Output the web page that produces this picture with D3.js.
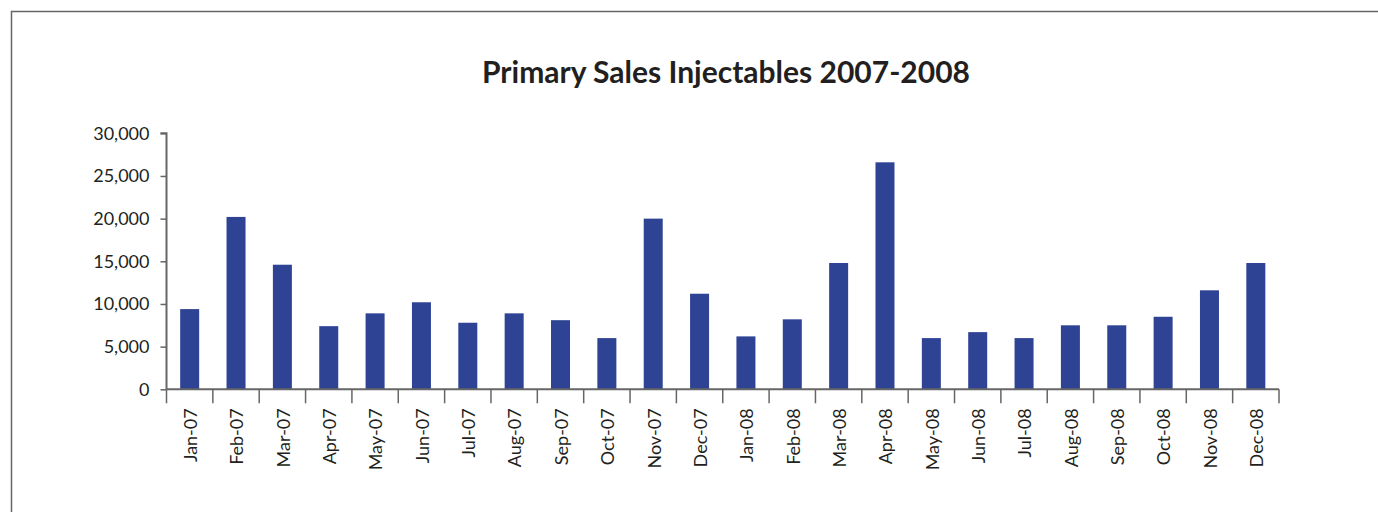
<!DOCTYPE html>
<html>
<head>
<meta charset="utf-8">
<script src="https://cdn.jsdelivr.net/npm/d3@7"></script>
<style>
  html, body { margin: 0; padding: 0; background: #fff; }
  svg { display: block; }
  text { font-family: Lato, "Open Sans", sans-serif; fill: #231f20; }
</style>
</head>
<body>
<svg id="chart" width="1378" height="512"></svg>
<script>
// Monthly primary sales of injectables, 2007–2008
const months = ["Jan-07","Feb-07","Mar-07","Apr-07","May-07","Jun-07","Jul-07","Aug-07","Sep-07","Oct-07","Nov-07","Dec-07",
                "Jan-08","Feb-08","Mar-08","Apr-08","May-08","Jun-08","Jul-08","Aug-08","Sep-08","Oct-08","Nov-08","Dec-08"];
const sales = [9400, 20200, 14600, 7400, 8900, 10200, 7800, 8900, 8100, 6000, 20000, 11200,
               6200, 8200, 14800, 26600, 6000, 6700, 6000, 7500, 7500, 8500, 11600, 14800];
const yTicks = [0, 5000, 10000, 15000, 20000, 25000, 30000];
const title = "Primary Sales Injectables 2007-2008";

const svg = d3.select("#chart");
const plot = { left: 166.5, right: 1279, top: 133.3, bottom: 389.3 };
const axisColor = "#666";

// outer frame
svg.append("path")
  .attr("d", "M11.5,520 L11.5,11.5 L1390,11.5")
  .attr("fill", "none").attr("stroke", axisColor).attr("stroke-width", 1.5);

svg.append("text")
  .attr("x", 726).attr("y", 83)
  .attr("text-anchor", "middle")
  .style("font-size", "30px").style("font-weight", "bold")
  .text(title);

const x = d3.scaleBand().domain(months).range([plot.left, plot.right]).paddingInner(0.59).paddingOuter(0.295);
const xb = d3.scaleBand().domain(months).range([plot.left, plot.right]);
const y = d3.scaleLinear().domain([0, 30000]).range([plot.bottom, plot.top]);

// bars
svg.append("g").selectAll("rect").data(sales).join("rect")
  .attr("x", (d, i) => x(months[i]))
  .attr("width", x.bandwidth())
  .attr("y", d => y(d))
  .attr("height", d => y(0) - y(d))
  .attr("fill", "#2f4395");

// y axis
const yAxis = svg.append("g").attr("transform", `translate(${plot.left},0)`)
  .call(d3.axisLeft(y).tickValues(yTicks).tickFormat(d3.format(",")).tickSize(6).tickPadding(11));
yAxis.select(".domain").attr("stroke", axisColor).attr("stroke-width", 2).attr("d", `M-6,${plot.top}H0V${plot.bottom}`);
yAxis.selectAll(".tick line").attr("stroke", axisColor).attr("stroke-width", 1.5);
yAxis.selectAll(".tick text").style("font-size", "18px").attr("fill", "#231f20");

// x axis: boundary ticks between months, labels centred and rotated
const xAxis = svg.append("g").attr("transform", `translate(0,${plot.bottom})`);
xAxis.append("line").attr("x1", plot.left).attr("x2", plot.right)
  .attr("stroke", axisColor).attr("stroke-width", 2);
const bounds = months.map(m => xb(m)).concat([plot.right]);
xAxis.selectAll("line.b").data(bounds).join("line").attr("class", "b")
  .attr("x1", d => d).attr("x2", d => d).attr("y1", 0).attr("y2", 14)
  .attr("stroke", axisColor).attr("stroke-width", 1.5);
xAxis.selectAll("text").data(months).join("text")
  .attr("transform", d => `translate(${xb(d) + xb.bandwidth() / 2 + 1},19) rotate(-90)`)
  .attr("text-anchor", "end")
  .attr("dy", "0.35em")
  .style("font-size", "18px")
  .text(d => d);
</script>
</body>
</html>
